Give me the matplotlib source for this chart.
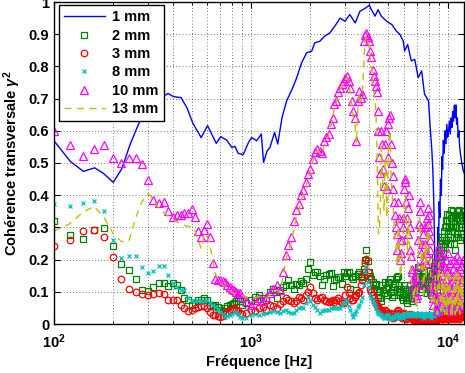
import matplotlib
matplotlib.use("Agg")
import matplotlib.pyplot as plt
import numpy as np

plt.rcParams['font.family'] = ['Liberation Sans', 'DejaVu Sans']
plt.rcParams['font.weight'] = 'bold'
plt.rcParams['mathtext.fontset'] = 'custom'
plt.rcParams['mathtext.rm'] = 'Liberation Sans:bold'
plt.rcParams['mathtext.it'] = 'Liberation Sans:italic:bold'
plt.rcParams['mathtext.bf'] = 'Liberation Sans:bold'

# ---- data ----
# frequency grid for the marker series [Hz]
freq = [100, 120, 140, 160, 180, 200, 220, 240, 260, 280,
        300, 320, 340, 360, 380, 400, 420, 440, 460, 480,
        500, 520, 540, 560, 580, 600, 620, 640, 660, 680,
        700, 720, 740, 760, 780, 800, 820, 840, 860, 880, 900,
        950, 1000, 1050, 1100, 1150, 1200, 1250, 1300, 1350, 1400,
        1450, 1500, 1550, 1600, 1650, 1700, 1750, 1800, 1850, 1900, 1950, 2000,
        2060, 2120, 2180, 2240, 2300, 2360, 2420, 2480, 2540, 2600,
        2660, 2720, 2780, 2840, 2900, 2960, 3020, 3080, 3140, 3200,
        3260, 3320, 3380, 3440, 3500, 3560, 3620, 3680, 3740, 3800,
        3860, 3920, 3980,
        4050, 4150, 4250, 4350, 4450, 4550, 4650, 4750, 4850, 4950,
        5050, 5150, 5250, 5350, 5450, 5550, 5650, 5750, 5850, 5950,
        6050, 6150, 6250, 6350, 6450, 6550, 6650, 6750, 6850, 6950,
        7050, 7150, 7250, 7350, 7450, 7550, 7650, 7750, 7850, 7950,
        8050, 8150, 8250, 8350, 8450, 8550, 8650, 8750, 8850, 8950,
        9050, 9150, 9250, 9350, 9450, 9550, 9650, 9750, 9850, 9950,
        10050, 10150, 10250, 10350, 10450, 10550, 10650, 10750, 10850, 10950,
        11050, 11150, 11250, 11350, 11450, 11550, 11650, 11750, 11850, 11950]

# extra points in the dense high-frequency part
freq_hi = [4100, 4200, 4300, 4400, 4500, 4600, 4700, 4800, 4900, 5000,
           5100, 5200, 5300, 5400, 5500, 5600, 5700, 5800, 5900, 6000,
           6100, 6200, 6300, 6400, 6500, 6600, 6700, 6800, 6900, 7000,
           7100, 7200, 7300, 7400, 7500, 7600, 7700, 7800, 7900, 8000,
           8100, 8200, 8300, 8400, 8500, 8600, 8700, 8800, 8900, 9000,
           9100, 9200, 9300, 9400, 9500, 9600, 9700, 9800, 9900, 10000,
           10100, 10200, 10300, 10400, 10500, 10600, 10700, 10800, 10900, 11000,
           11100, 11200, 11300, 11400, 11500, 11600, 11700, 11800, 11900]

coh_2mm = [.320, .277, .265, .293, .299, .241, .185, .167, .140, .107,
           .102, .114, .126, .126, .118, .126, .121, .105, .080, .074,
           .059, .062, .074, .074, .080, .074, .060, .056, .059, .054,
           .042, .040, .049, .055, .059, .062, .064, .072, .080, .070, .060,
           .065, .074, .085, .090, .080, .074, .100, .110, .080, .105,
           .115, .120, .136, .120, .110, .125, .121, .135, .126, .141, .170, .193,
           .152, .160, .162, .150, .120, .140, .152, .155, .157, .118,
           .136, .140, .146, .146, .125, .162, .150, .158, .162, .110,
           .145, .141, .150, .105, .155, .162, .150, .145, .170, .200,
           .229, .195, .160,
           .150, .130, .120, .100, .090, .080, .120, .095, .110, .130,
           .126, .100, .115, .090, .140, .146, .120, .100, .085, .095,
           .110, .074, .080, .105, .090, .070, .100, .120, .140, .160,
           .177, .150, .120, .100, .140, .160, .146, .110, .130, .150,
           .120, .100, .130, .157, .140, .180, .208, .160, .120, .190,
           .230, .200, .250, .270, .220, .290, .250, .322, .300, .342,
           .280, .320, .250, .353, .300, .330, .301, .270, .340, .229,
           .300, .350, .270, .330, .353, .322, .280, .340, .300, .350]
coh_2mm_hi = [.140, .110, .125, .085, .100, .070, .105, .130, .090, .115,
              .140, .085, .100, .125, .110, .150, .090, .110, .075, .120,
              .090, .065, .095, .120, .080, .090, .110, .130, .150, .120,
              .160, .175, .135, .110, .125, .150, .130, .095, .140, .165,
              .110, .090, .145, .120, .160, .190, .140, .100, .170, .210,
              .180, .230, .200, .260, .240, .270, .300, .260, .320, .290,
              .340, .300, .270, .330, .290, .350, .320, .250, .300, .330,
              .280, .320, .350, .300, .260, .340, .310, .270, .330]

coh_3mm = [.242, .260, .288, .293, .270, .208, .141, .108, .098, .093,
           .090, .093, .097, .093, .074, .074, .074, .059, .049, .041,
           .043, .049, .054, .056, .056, .049, .038, .028, .028, .025,
           .023, .026, .033, .038, .043, .046, .049, .045, .040, .035, .030,
           .035, .043, .040, .049, .052, .045, .059, .055, .050, .062,
           .070, .080, .075, .070, .064, .072, .085, .080, .075, .090, .100, .115,
           .095, .080, .074, .080, .085, .075, .070, .069, .072, .074,
           .068, .074, .080, .070, .064, .064, .090, .115, .095, .080,
           .074, .074, .085, .090, .095, .100, .120, .136, .160, .190,
           .203, .160, .140,
           .110, .090, .070, .060, .050, .045, .040, .035, .040, .030,
           .025, .030, .020, .025, .030, .040, .030, .025, .020, .030,
           .025, .015, .020, .025, .030, .020, .015, .018, .012, .015,
           .020, .010, .015, .008, .012, .020, .010, .015, .008, .010,
           .012, .006, .010, .015, .008, .012, .020, .010, .015, .025,
           .018, .010, .020, .030, .015, .025, .035, .020, .015, .030,
           .020, .040, .025, .015, .030, .020, .035, .025, .015, .030,
           .020, .040, .025, .015, .030, .020, .035, .025, .040, .030]
coh_3mm_hi = [.100, .080, .065, .055, .048, .042, .038, .045, .035, .028,
              .035, .025, .030, .022, .035, .045, .028, .022, .026, .035,
              .020, .018, .028, .022, .025, .018, .012, .016, .010, .018,
              .014, .012, .010, .015, .016, .012, .012, .010, .012, .008,
              .010, .012, .008, .010, .014, .016, .012, .020, .018, .022,
              .015, .025, .020, .028, .020, .030, .028, .018, .025, .035,
              .028, .030, .020, .025, .028, .025, .030, .020, .025, .035,
              .030, .032, .020, .025, .028, .025, .030, .035, .032]

coh_8mm = [.373, .365, .376, .381, .350, .262, .205, .211, .211, .177,
           .159, .165, .179, .179, .152, .126, .115, .105, .105, .080,
           .072, .072, .072, .072, .072, .076, .064, .058, .052, .047,
           .036, .030, .023, .025, .028, .032, .036, .038, .030, .022, .018,
           .020, .028, .030, .028, .030, .033, .036, .040, .038, .035,
           .040, .043, .038, .033, .033, .045, .050, .054, .050, .065, .085, .070,
           .060, .054, .045, .033, .040, .043, .043, .045, .050, .054,
           .050, .049, .049, .049, .060, .065, .074, .070, .055, .045,
           .030, .023, .030, .040, .054, .060, .070, .085, .120, .160,
           .177, .130, .115,
           .090, .070, .060, .040, .035, .030, .025, .020, .025, .030,
           .020, .015, .025, .020, .030, .025, .020, .030, .025, .020,
           .030, .025, .035, .030, .025, .035, .030, .025, .035, .030,
           .025, .030, .035, .025, .030, .020, .030, .025, .035, .030,
           .025, .030, .020, .035, .030, .025, .040, .035, .030, .045,
           .040, .035, .050, .045, .040, .055, .045, .050, .040, .055,
           .050, .045, .060, .050, .045, .055, .050, .060, .045, .055,
           .050, .060, .055, .050, .065, .055, .050, .060, .055, .065]
coh_8mm_hi = [.080, .065, .050, .038, .032, .028, .022, .018, .028, .025,
              .018, .020, .022, .025, .028, .022, .025, .028, .022, .025,
              .028, .030, .032, .028, .030, .032, .028, .030, .032, .028,
              .028, .032, .030, .028, .025, .025, .028, .030, .032, .028,
              .028, .025, .028, .032, .028, .032, .038, .032, .038, .042,
              .038, .042, .048, .042, .048, .050, .048, .045, .048, .052,
              .048, .052, .055, .048, .050, .052, .055, .052, .050, .052,
              .055, .058, .052, .058, .060, .052, .055, .058, .060]

coh_10mm = [.600, .555, .521, .545, .556, .516, .500, .517, .517, .497,
            .446, .386, .375, .378, .350, .332, .337, .340, .344, .344,
            .358, .332, .289, .270, .291, .311, .270, .188, .141, .138,
            .136, .133, .131, .122, .115, .110, .105, .100, .097, .095, .085,
            .070, .060, .075, .080, .070, .085, .095, .110, .120, .105,
            .162, .213, .244, .270, .320, .355, .373, .400, .415, .440, .466, .482,
            .512, .533, .543, .538, .530, .569, .580, .590, .621, .641,
            .683, .693, .720, .734, .745, .755, .765, .770, .755, .734,
            .693, .662, .641, .569, .693, .724, .703, .714, .880, .899,
            .904, .890, .878,
            .848, .790, .755, .720, .600, .470, .560, .430, .600, .520,
            .640, .560, .460, .380, .300, .230, .330, .200, .260, .330,
            .440, .380, .280, .400, .230, .170, .140, .100, .120, .090,
            .180, .310, .350, .220, .280, .120, .250, .190, .330, .360,
            .290, .230, .150, .100, .060, .120, .180, .080, .040, .150,
            .220, .110, .060, .180, .090, .130, .050, .200, .100, .160,
            .070, .120, .190, .060, .100, .040, .150, .200, .080, .130,
            .190, .060, .100, .200, .150, .070, .120, .180, .050, .100]
coh_10mm_hi = [.830, .770, .740, .660, .520, .600, .480, .560, .420, .620,
               .650, .500, .420, .340, .280, .380, .260, .220, .300, .420,
               .450, .330, .360, .300, .210, .160, .120, .150, .080, .140,
               .260, .380, .300, .250, .180, .200, .300, .220, .310, .340,
               .260, .200, .120, .080, .100, .160, .120, .060, .200, .240,
               .170, .080, .130, .210, .070, .180, .100, .140, .060, .220,
               .090, .160, .110, .050, .130, .090, .170, .120, .060, .160,
               .110, .210, .080, .130, .050, .170, .090, .140, .200]

coh_13mm = [.289, .311, .347, .365, .330, .280, .256, .258, .330, .380,
            .405, .389, .360, .347, .335, .326, .318, .311, .306, .303,
            .301, .290, .260, .234, .280, .270, .244, .200, .157, .140,
            .125, .120, .118, .110, .105, .098, .095, .093, .091, .090, .088,
            .085, .080, .082, .085, .078, .080, .090, .100, .105, .100,
            .140, .190, .230, .250, .290, .330, .350, .385, .400, .420, .450, .470,
            .505, .525, .538, .530, .525, .560, .575, .585, .612, .635,
            .675, .688, .712, .728, .740, .750, .760, .765, .748, .720,
            .680, .640, .620, .560, .670, .715, .690, .705, .800, .880,
            .895, .875, .865,
            .820, .760, .700, .600, .280, .350, .480, .350, .520, .450,
            .580, .470, .380, .300, .250, .180, .280, .150, .220, .300,
            .400, .320, .230, .330, .180, .130, .110, .080, .090, .060,
            .150, .270, .300, .170, .230, .080, .200, .140, .280, .310,
            .240, .180, .100, .070, .040, .090, .150, .050, .030, .110,
            .180, .080, .040, .140, .060, .100, .030, .160, .070, .120,
            .050, .090, .150, .040, .070, .030, .110, .160, .050, .100,
            .150, .040, .070, .160, .110, .050, .090, .140, .040, .080]
coh_13mm_hi = [.800, .730, .680, .450, .300, .550, .400, .500, .330, .560,
               .600, .420, .350, .260, .220, .320, .200, .170, .250, .380,
               .400, .270, .310, .240, .160, .120, .090, .110, .050, .100,
               .220, .330, .250, .200, .130, .150, .250, .170, .260, .300,
               .210, .150, .080, .050, .070, .120, .080, .030, .150, .190,
               .120, .050, .090, .160, .040, .130, .060, .100, .030, .170,
               .060, .120, .070, .030, .090, .060, .120, .080, .030, .120,
               .070, .160, .050, .090, .030, .120, .060, .100, .150]

# 1 mm curve (continuous line)
freq_1mm = [100, 121, 141, 161, 178, 200, 221, 244, 269, 296,
            320, 346, 379, 405, 442, 473, 508, 559, 603, 667,
            703, 754, 801, 830, 862, 915, 973, 1010, 1070, 1130,
            1160, 1210, 1250, 1320, 1370, 1440, 1520, 1620, 1710, 1810,
            1920, 2040, 2110, 2240, 2370, 2520, 2670, 2840, 3010, 3180,
            3390, 3580, 3780, 4000, 4100, 4270, 4430, 4600, 4900, 5200,
            5500, 5720, 5950, 6040, 6260, 6530, 6800, 7080, 7380, 7620,
            7990, 8150, 8310, 8400, 8480, 8550, 8620, 8680, 8740, 8800,
            8860, 8920, 8980, 9050, 9120, 9200, 9280, 9350, 9420, 9500,
            9600, 9700, 9800, 9900, 10000, 10100, 10200, 10300, 10400, 10500,
            10600, 10700, 10800, 10900, 11000, 11100, 11200, 11300, 11400, 11500,
            11650, 11800, 11950, 12100]
coh_1mm = [.569, .505, .474, .485, .468, .440, .482, .559, .621, .677,
           .695, .701, .716, .706, .703, .672, .623, .579, .616, .561,
           .582, .571, .548, .552, .530, .526, .564, .579, .569, .590,
           .502, .538, .548, .595, .559, .641, .693, .729, .765, .811,
           .842, .848, .873, .878, .894, .904, .925, .950, .940, .961,
           .935, .971, .979, .990, .976, .956, .976, .956, .940, .930,
           .909, .899, .878, .848, .868, .817, .822, .765, .786, .714,
           .693, .610, .538, .480, .400, .300, .120, .050, .100, .040,
           .200, .300, .250, .380, .330, .450, .400, .520, .480, .570,
           .530, .600, .560, .620, .580, .600, .630, .590, .640, .610,
           .660, .630, .680, .640, .680, .620, .640, .580, .600, .550,
           .520, .500, .480, .470]


def merged(f_lo, v_lo, f_hi, v_hi):
    f = np.array(f_lo + f_hi, dtype=float)
    v = np.array(v_lo + v_hi, dtype=float)
    order = np.argsort(f)
    return f[order], v[order]


f2, c2 = merged(freq, coh_2mm, freq_hi, coh_2mm_hi)
f3, c3 = merged(freq, coh_3mm, freq_hi, coh_3mm_hi)
f8, c8 = merged(freq, coh_8mm, freq_hi, coh_8mm_hi)
f10, c10 = merged(freq, coh_10mm, freq_hi, coh_10mm_hi)
f13, c13 = merged(freq, coh_13mm, freq_hi, coh_13mm_hi)

# ---- figure ----
fig = plt.figure(figsize=(4.65, 3.73), dpi=100)
ax = fig.add_axes([54 / 465, 49 / 373, 410 / 465, 322 / 373])

ax.semilogx(freq_1mm, coh_1mm, '-', color=(0, 0, 1), lw=1.0, label='1 mm')
ax.semilogx(f2, c2, 's', mfc='none', mec=(0, 0.5, 0), ms=4.4, mew=0.9, label='2 mm')
ax.semilogx(f3, c3, 'o', mfc='none', mec=(1, 0, 0), ms=4.7, mew=0.9, label='3 mm')
ax.semilogx(f8, c8, 'x', color=(0, 0.75, 0.75), ms=3.4, mew=0.9, label='8 mm')
ax.semilogx(f10, c10, '^', mfc='none', mec=(1, 0, 1), ms=5.4, mew=0.9, label='10 mm')
ax.semilogx(f13, c13, '--', color=(0.75, 0.75, 0), lw=1.0, dashes=(5, 4), label='13 mm')

ax.set_xlim(100, 12100)
ax.set_ylim(0, 1)
ax.set_yticks(np.arange(0, 1.01, 0.1))
ax.set_yticklabels(['0', '0.1', '0.2', '0.3', '0.4', '0.5', '0.6', '0.7', '0.8', '0.9', '1'])
ax.set_xticks([100, 1000, 10000])
ax.set_xticklabels([r'$\mathbf{10^{2}}$', r'$\mathbf{10^{3}}$', r'$\mathbf{10^{4}}$'])

ax.tick_params(which='both', direction='in', top=True, right=True, labelsize=10.5)
ax.tick_params(which='major', length=4, width=0.8)
ax.tick_params(axis='x', which='major', pad=6)
ax.tick_params(which='minor', length=2.5, width=0.6)
ax.grid(True, which='both', axis='x', color='k', lw=0.5, linestyle=(0, (1, 3.5)))
ax.grid(True, which='major', axis='y', color='k', lw=0.5, linestyle=(0, (1, 3.5)))
for s in ax.spines.values():
    s.set_linewidth(1.0)

ax.set_xlabel('Fréquence [Hz]', fontsize=10.5, fontweight='bold', labelpad=3)
ax.set_ylabel(r'Cohérence transversale $\gamma^2$', fontsize=10.5, fontweight='bold', labelpad=4)

leg = ax.legend(loc='upper left', bbox_to_anchor=(0.012, 0.99), borderaxespad=0,
                fontsize=10.5, handlelength=2.8, labelspacing=0.3, handletextpad=0.5,
                fancybox=False, framealpha=1, edgecolor='k', borderpad=0.35)
leg.get_frame().set_linewidth(1.0)

fig.savefig('out.png', dpi=100)
